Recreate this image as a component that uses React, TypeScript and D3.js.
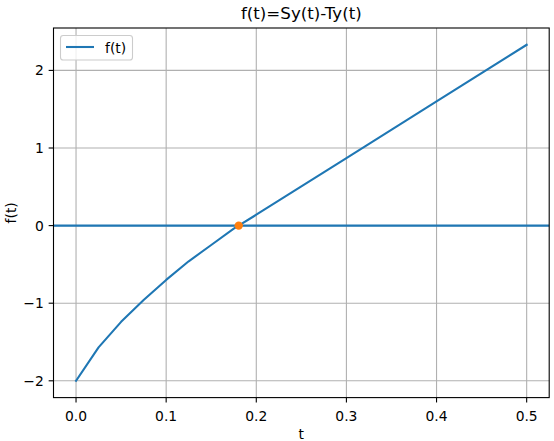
import React from "react";
import * as d3 from "d3";

const tValues = [0, 0.025, 0.05, 0.075, 0.1, 0.125, 0.15, 0.175, 0.2, 0.3, 0.4, 0.5];
const fValues = [-2.0, -1.57, -1.24, -0.96, -0.7, -0.46, -0.25, -0.04, 0.14, 0.87, 1.6, 2.33];
const rootT = [0.1805];
const rootF = [0];
const xTicks = [0, 0.1, 0.2, 0.3, 0.4, 0.5];
const yTicks = [-2, -1, 0, 1, 2];

const W = 554, H = 441;
const L = 53.5, R = 549.2, T = 28, B = 397.6;
const FONT = "DejaVu Sans, sans-serif";
const BLUE = "#1f77b4";
const ORANGE = "#ff7f0e";

export default function App() {
  const xMin = d3.min(tValues)!, xMax = d3.max(tValues)!;
  const yMin = d3.min(fValues)!, yMax = d3.max(fValues)!;
  const xm = (xMax - xMin) * 0.05, ym = (yMax - yMin) * 0.05;
  const x = d3.scaleLinear().domain([xMin - xm, xMax + xm]).range([L, R]);
  const y = d3.scaleLinear().domain([yMin - ym, yMax + ym]).range([B, T]);
  const pts = tValues.map((t, i) => [t, fValues[i]] as [number, number]);
  const line = d3.line<[number, number]>().x(d => x(d[0])).y(d => y(d[1]));
  const fmtX = d3.format(".1f");
  const fmtY = (v: number) => (v < 0 ? "\u2212" + Math.abs(v) : String(v));

  return (
    <svg width={W} height={H} style={{ position: "absolute", left: 0, top: 0 }} fontFamily={FONT}>
      <rect x={0} y={0} width={W} height={H} fill="white" />
      <defs>
        <clipPath id="ax">
          <rect x={L} y={T} width={R - L} height={B - T} />
        </clipPath>
      </defs>
      {xTicks.map(t => (
        <line key={"gx" + t} x1={x(t)} x2={x(t)} y1={T} y2={B} stroke="#b0b0b0" strokeWidth={1.1} />
      ))}
      {yTicks.map(t => (
        <line key={"gy" + t} x1={L} x2={R} y1={y(t)} y2={y(t)} stroke="#b0b0b0" strokeWidth={1.1} />
      ))}
      <g clipPath="url(#ax)">
        <path d={line(pts)!} fill="none" stroke={BLUE} strokeWidth={2.08} strokeLinejoin="round" strokeLinecap="square" />
        <line x1={L} x2={R} y1={y(0)} y2={y(0)} stroke={BLUE} strokeWidth={2.08} />
        {rootT.map((t, i) => (
          <circle key={"r" + i} cx={x(t)} cy={y(rootF[i])} r={4.2} fill={ORANGE} />
        ))}
      </g>
      <rect x={L} y={T} width={R - L} height={B - T} fill="none" stroke="black" strokeWidth={1.1} />
      {xTicks.map(t => (
        <g key={"tx" + t}>
          <line x1={x(t)} x2={x(t)} y1={B} y2={B + 4.86} stroke="black" strokeWidth={1.1} />
          <text x={x(t)} y={421} textAnchor="middle" fontSize={13.89}>{fmtX(t)}</text>
        </g>
      ))}
      {yTicks.map(t => (
        <g key={"ty" + t}>
          <line x1={L - 4.86} x2={L} y1={y(t)} y2={y(t)} stroke="black" strokeWidth={1.1} />
          <text x={L - 9.7} y={y(t) + 5} textAnchor="end" fontSize={13.89}>{fmtY(t)}</text>
        </g>
      ))}
      <text x={(L + R) / 2} y={439} textAnchor="middle" fontSize={13.89}>t</text>
      <text transform={`translate(16,${(T + B) / 2}) rotate(-90)`} textAnchor="middle" fontSize={13.89}>f(t)</text>
      <text x={(L + R) / 2} y={19} textAnchor="middle" fontSize={16.67}>f(t)=Sy(t)-Ty(t)</text>
      <rect x={60.5} y={35.5} width={72} height={24.5} rx={2.8} fill="white" fillOpacity={0.8} stroke="#cccccc" strokeWidth={1.1} />
      <line x1={66} x2={94} y1={47} y2={47} stroke={BLUE} strokeWidth={2.08} />
      <text x={105} y={52.5} fontSize={13.89}>f(t)</text>
    </svg>
  );
}
